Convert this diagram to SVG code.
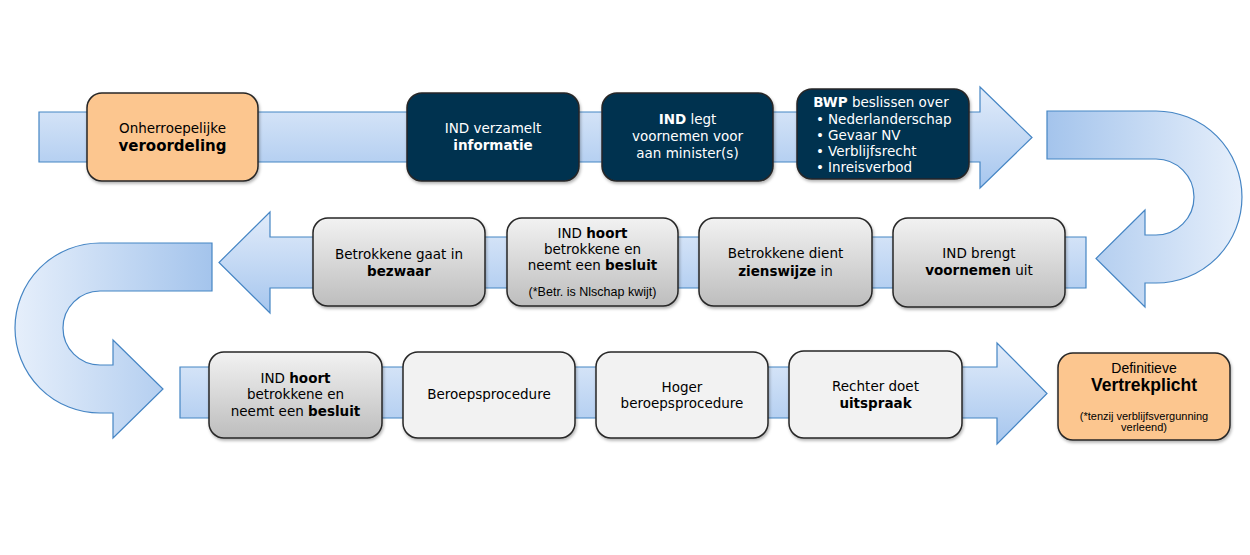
<svg xmlns="http://www.w3.org/2000/svg" width="1250" height="555" viewBox="0 0 1250 555">
<style>
.arrow{stroke:#4585c4;stroke-width:1.2}
.node{stroke:#262626;stroke-width:1.5;filter:url(#sh)}
.navy{fill:#003150}
.orange{fill:#fcc68f}
.grey{fill:url(#gGrey)}
.light{fill:#f2f2f2}
text{font-family:"DejaVu Sans",Verdana,sans-serif;font-size:13.5px;text-anchor:middle;fill:#000}
.w{fill:#fff}
.b{font-weight:bold}
.note{font-family:"Liberation Sans",Arial,sans-serif;font-size:11px}
</style>
<defs>
<linearGradient id="gV" x1="0" y1="0" x2="0" y2="1">
<stop offset="0" stop-color="#e2ecfa"/>
<stop offset="1" stop-color="#a6c6ee"/>
</linearGradient>
<linearGradient id="gR" gradientUnits="userSpaceOnUse" x1="1047" y1="0" x2="1242" y2="0">
<stop offset="0" stop-color="#a4c4ec"/>
<stop offset="1" stop-color="#e6effb"/>
</linearGradient>
<linearGradient id="gL" gradientUnits="userSpaceOnUse" x1="15" y1="0" x2="212" y2="0">
<stop offset="0" stop-color="#e6effb"/>
<stop offset="1" stop-color="#a4c4ec"/>
</linearGradient>
<linearGradient id="gGrey" x1="0" y1="0" x2="0" y2="1">
<stop offset="0" stop-color="#f2f2f2"/>
<stop offset="1" stop-color="#bdbdbd"/>
</linearGradient>
<filter id="sh" x="-10%" y="-10%" width="125%" height="130%">
<feDropShadow dx="1" dy="2" stdDeviation="1.5" flood-color="#000" flood-opacity="0.3"/>
</filter>
</defs>

<g id="connectors">
<path class="arrow" fill="url(#gV)" d="M39,112 H980 V87 L1032,137.5 L980,188 V162 H39 Z"/>
<path class="arrow" fill="url(#gR)" d="M1047,111 H1156 A86,86 0 0 1 1156,283 H1145 V307 L1096,258.5 L1145,210 V235 H1156 A38,38 0 0 0 1156,159 H1047 Z"/>
<path class="arrow" fill="url(#gV)" d="M1086,237 H270 V212 L219,262.5 L270,313 V288 H1086 Z"/>
<path class="arrow" fill="url(#gL)" d="M212,243 H100 A85,85 0 0 0 100,413 H113 V438 L163,389 L113,340 V365 H100 A37,37 0 0 1 100,291 H212 Z"/>
<path class="arrow" fill="url(#gV)" d="M180,367 H997 V343 L1047,393.5 L997,444 V418 H180 Z"/>
</g>

<g id="n1">
<rect class="node orange" x="87" y="93" width="171" height="88" rx="15"/>
<text x="172.5" y="133">Onherroepelijke</text>
<text x="172.5" y="151" class="b" style="font-size:15px">veroordeling</text>
</g>
<g id="n2">
<rect class="node navy" x="407" y="93" width="172" height="88" rx="15"/>
<text x="493" y="133" class="w">IND verzamelt</text>
<text x="493" y="150" class="w b">informatie</text>
</g>
<g id="n3">
<rect class="node navy" x="602" y="93" width="171" height="88" rx="15"/>
<text x="687.5" y="124" class="w"><tspan class="b">IND</tspan> legt</text>
<text x="687.5" y="141" class="w">voornemen voor</text>
<text x="687.5" y="158" class="w">aan minister(s)</text>
</g>
<g id="n4">
<rect class="node navy" x="797" y="89" width="172" height="90" rx="15"/>
<text x="881" y="107" class="w"><tspan class="b">BWP</tspan> beslissen over</text>
<text x="820" y="123.5" class="w">•</text>
<text x="828" y="123.5" class="w" style="text-anchor:start">Nederlanderschap</text>
<text x="820" y="140" class="w">•</text>
<text x="828" y="140" class="w" style="text-anchor:start">Gevaar NV</text>
<text x="820" y="156" class="w">•</text>
<text x="828" y="156" class="w" style="text-anchor:start">Verblijfsrecht</text>
<text x="820" y="172" class="w">•</text>
<text x="828" y="172" class="w" style="text-anchor:start">Inreisverbod</text>
</g>

<g id="n5">
<rect class="node grey" x="893" y="218" width="172" height="89" rx="15"/>
<text x="979" y="258">IND brengt</text>
<text x="979" y="275"><tspan class="b">voornemen</tspan> uit</text>
</g>
<g id="n6">
<rect class="node grey" x="699" y="218" width="173" height="88" rx="15"/>
<text x="785.5" y="258">Betrokkene dient</text>
<text x="785.5" y="276"><tspan class="b">zienswijze</tspan>  in</text>
</g>
<g id="n7">
<rect class="node grey" x="507" y="218" width="171" height="88" rx="15"/>
<text x="592.5" y="238">IND <tspan class="b">hoort</tspan></text>
<text x="592.5" y="254">betrokkene en</text>
<text x="592.5" y="270">neemt een <tspan class="b">besluit</tspan></text>
<text x="592.5" y="296" class="note" style="font-size:12.5px">(*Betr. is Nlschap kwijt)</text>
</g>
<g id="n8">
<rect class="node grey" x="313" y="218" width="172" height="88" rx="15"/>
<text x="399" y="259">Betrokkene gaat in</text>
<text x="399" y="276" class="b">bezwaar</text>
</g>

<g id="n9">
<rect class="node grey" x="209" y="352" width="173" height="86" rx="15"/>
<text x="295.5" y="383">IND <tspan class="b">hoort</tspan></text>
<text x="295.5" y="399">betrokkene en</text>
<text x="295.5" y="416">neemt een <tspan class="b">besluit</tspan></text>
</g>
<g id="n10">
<rect class="node light" x="403" y="352" width="172" height="86" rx="15"/>
<text x="489" y="399">Beroepsprocedure</text>
</g>
<g id="n11">
<rect class="node light" x="596" y="352" width="172" height="86" rx="15"/>
<text x="682" y="392">Hoger</text>
<text x="682" y="408">beroepsprocedure</text>
</g>
<g id="n12">
<rect class="node light" x="789" y="351" width="173" height="87" rx="15"/>
<text x="875.5" y="391">Rechter doet</text>
<text x="875.5" y="408" class="b">uitspraak</text>
</g>
<g id="n13">
<rect class="node orange" x="1058" y="353" width="172" height="87" rx="15"/>
<text x="1144" y="373" style="font-family:'Liberation Sans',Arial,sans-serif;font-size:14px">Definitieve</text>
<text x="1144" y="391" class="b" style="font-family:'Liberation Sans',Arial,sans-serif;font-size:17.5px">Vertrekplicht</text>
<text x="1144" y="420" class="note">(*tenzij verblijfsvergunning</text>
<text x="1144" y="431" class="note">verleend)</text>
</g>
</svg>
